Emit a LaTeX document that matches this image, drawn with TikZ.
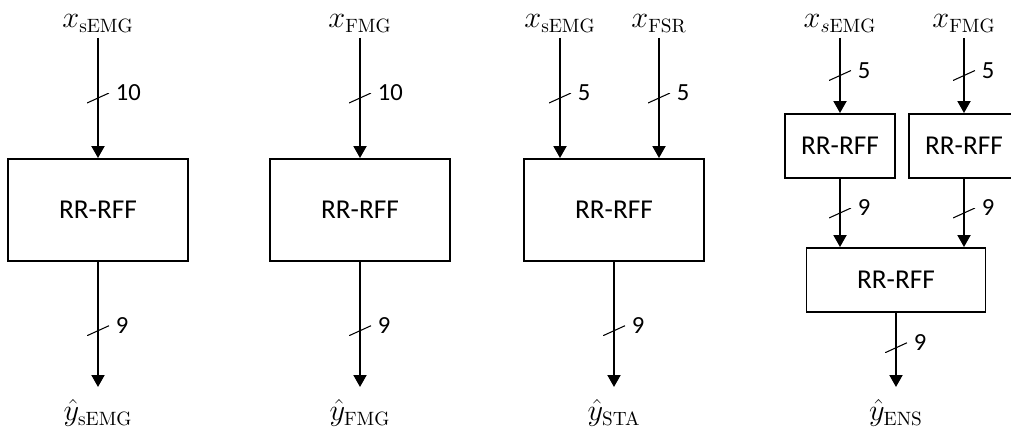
\documentclass[tikz,border=0pt]{standalone}
\usepackage{amsmath}
\usepackage[no-math]{fontspec}
\setmainfont{Carlito}
\usetikzlibrary{arrows.meta,positioning}

\begin{document}
\begin{tikzpicture}[
  font=\fontsize{14}{17}\selectfont,
  block/.style={draw, line width=1.1pt, minimum width=3.6cm, minimum height=2.04cm, font=\fontsize{15.5}{18}\selectfont},
  small block/.style={block, minimum width=2.2cm, minimum height=1.28cm},
  sig/.style={line width=1.1pt, -{Triangle[width=2.6mm,length=2.4mm]}},
  slash/.style={inner sep=0pt, minimum width=4.4mm, minimum height=2mm,
    path picture={\draw[-, line width=0.6pt] (path picture bounding box.south west) -- (path picture bounding box.north east);}},
  dim/.style={anchor=west, inner sep=0pt, xshift=3.4mm, yshift=1mm},
  in label/.style={above, inner sep=3pt, font=\fontsize{16}{19}\selectfont},
  out label/.style={below, inner sep=7pt, font=\fontsize{16}{19}\selectfont}]
\useasboundingbox (0,0) rectangle (20.22,8.68);
\clip (0,0) rectangle (20.22,8.68);
% sEMG only
\node[block] (a) at (1.96,4.48) {RR-RFF};
\node[in label] (xa) at (1.96,7.92) {$x_{\mathrm{sEMG}}$};
\node[out label] (ya) at (1.96,0.94) {$\hat{y}_{\mathrm{sEMG}}$};
\draw[sig] (xa) -- node[slash]{} node[dim]{10} (a);
\draw[sig] (a) -- node[slash, pos=0.55]{} node[dim, pos=0.55]{9} (ya);
% FMG only
\node[block] (b) at (7.2,4.48) {RR-RFF};
\node[in label] (xb) at (7.2,7.92) {$x_{\mathrm{FMG}}$};
\node[out label] (yb) at (7.2,0.94) {$\hat{y}_{\mathrm{FMG}}$};
\draw[sig] (xb) -- node[slash]{} node[dim]{10} (b);
\draw[sig] (b) -- node[slash, pos=0.55]{} node[dim, pos=0.55]{9} (yb);
% stacked inputs
\node[block] (c) at (12.28,4.48) {RR-RFF};
\node[in label] (xc1) at (11.2,7.92) {$x_{\mathrm{sEMG}}$};
\node[in label] (xc2) at (13.18,7.92) {$x_{\mathrm{FSR}}$};
\node[out label] (yc) at (12.28,0.94) {$\hat{y}_{\mathrm{STA}}$};
\draw[sig] (xc1) -- node[slash]{} node[dim]{5} (xc1 |- c.north);
\draw[sig] (xc2) -- node[slash]{} node[dim]{5} (xc2 |- c.north);
\draw[sig] (c) -- node[slash, pos=0.55]{} node[dim, pos=0.55]{9} (yc);
% ensemble
\node[small block] (d1) at (16.8,5.76) {RR-RFF};
\node[small block] (d2) at (19.28,5.76) {RR-RFF};
\node[small block, minimum width=3.58cm] (e) at (17.92,3.08) {RR-RFF};
\node[in label] (xd1) at (16.8,7.92) {$x_{s\mathrm{EMG}}$};
\node[in label] (xd2) at (19.28,7.92) {$x_{\mathrm{FMG}}$};
\node[out label] (ye) at (17.92,0.94) {$\hat{y}_{\mathrm{ENS}}$};
\draw[sig] (xd1) -- node[slash]{} node[dim]{5} (d1);
\draw[sig] (xd2) -- node[slash]{} node[dim]{5} (d2);
\draw[sig] (d1) -- node[slash]{} node[dim]{9} (d1 |- e.north);
\draw[sig] (d2) -- node[slash]{} node[dim]{9} (d2 |- e.north);
\draw[sig] (e) -- node[slash, pos=0.47]{} node[dim, pos=0.47]{9} (ye);
\end{tikzpicture}
\end{document}
